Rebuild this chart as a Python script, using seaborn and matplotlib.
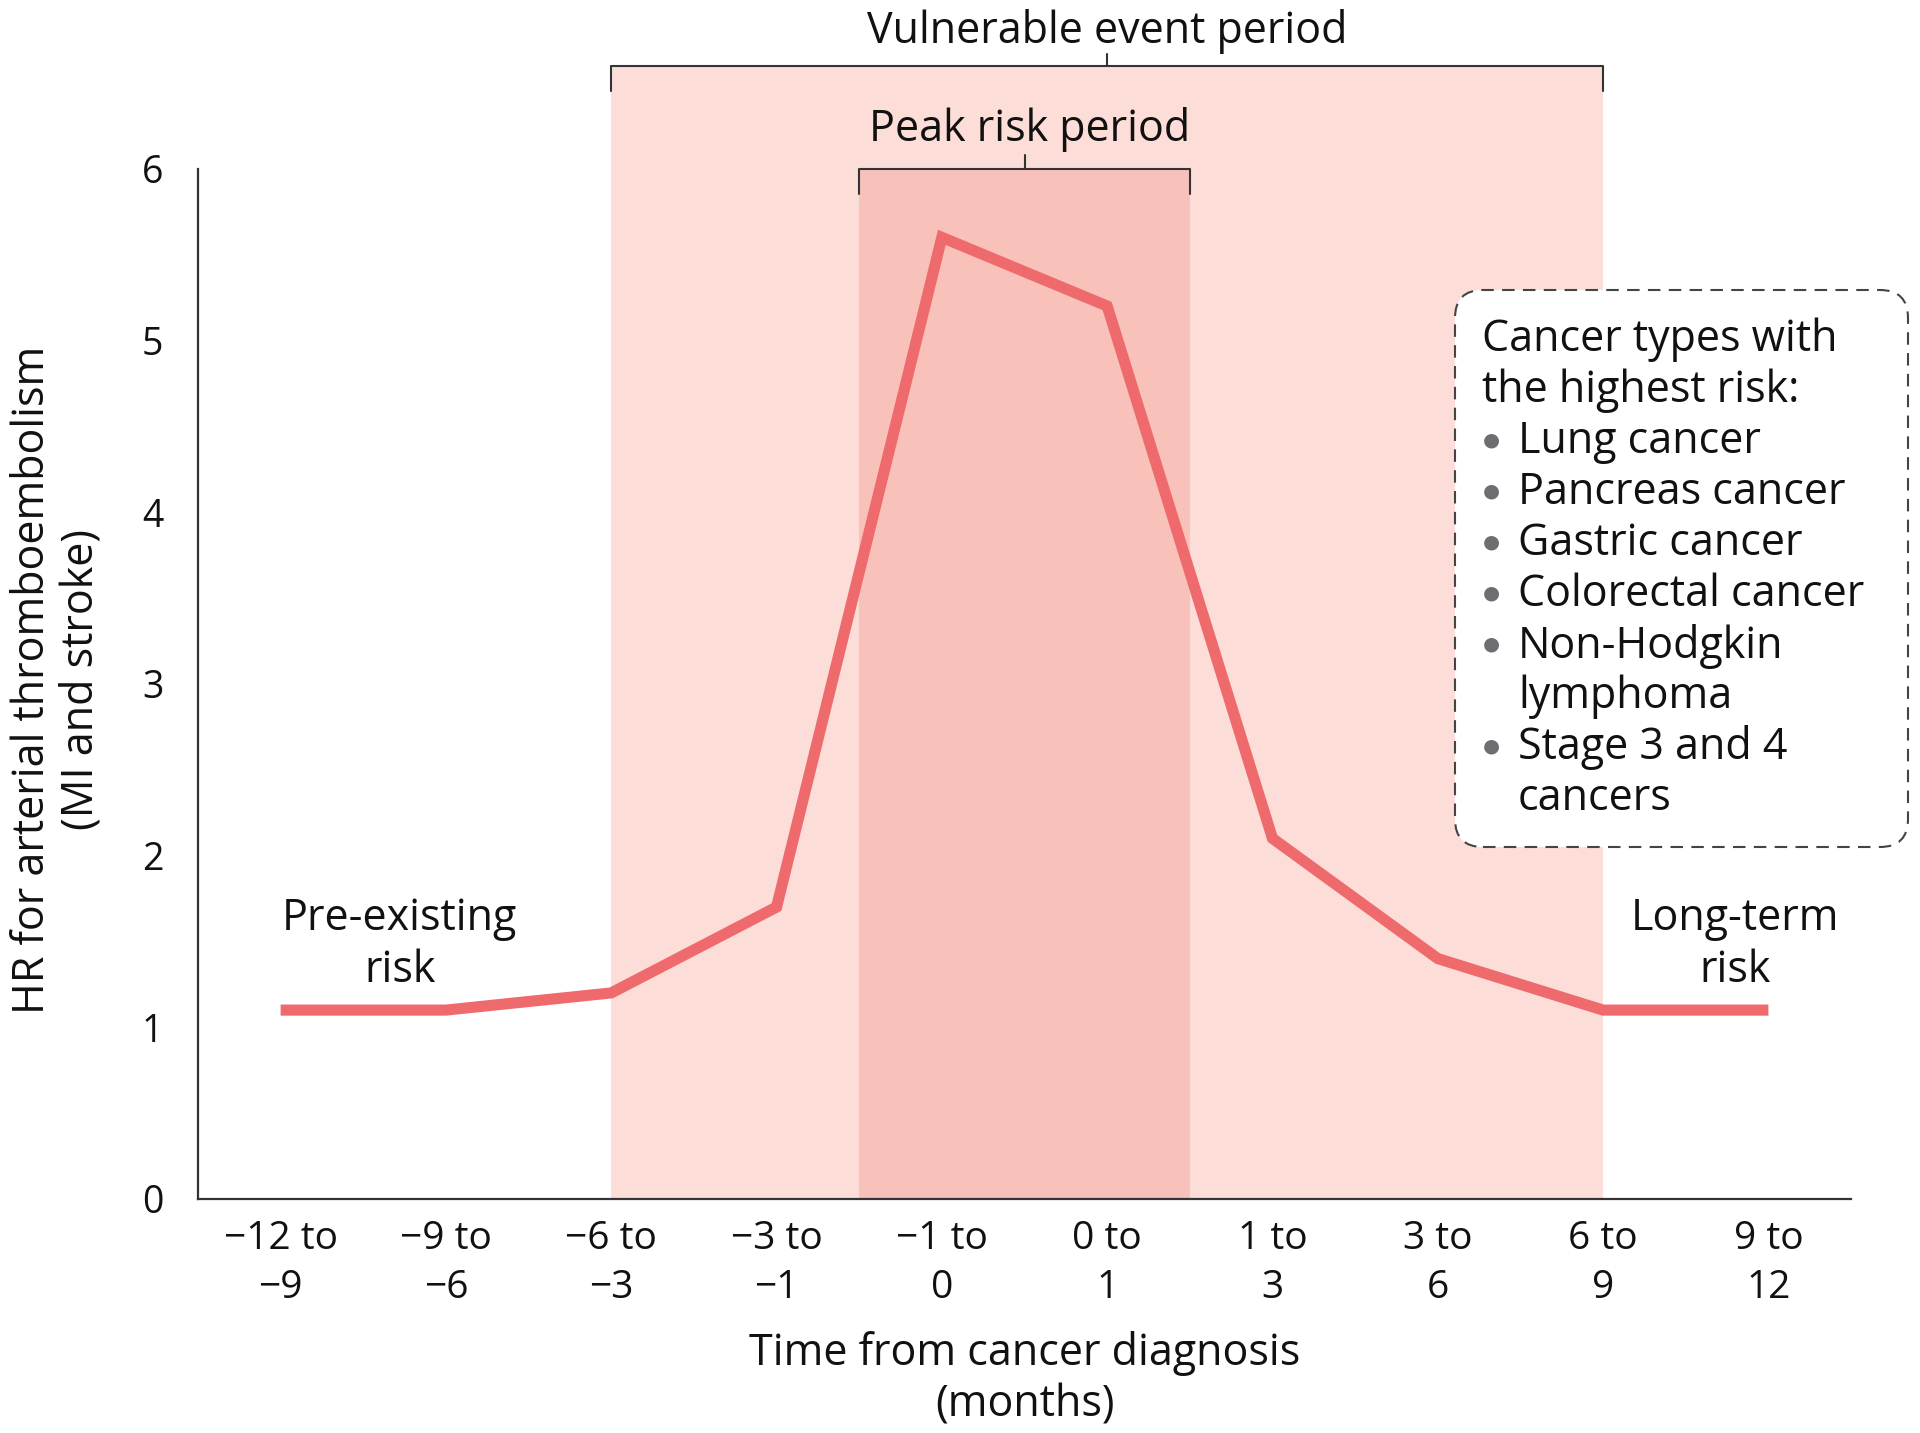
import numpy as np
import pandas as pd
import matplotlib
matplotlib.use("Agg")
import matplotlib.pyplot as plt
import seaborn as sns
from matplotlib.patches import FancyBboxPatch, Rectangle
from matplotlib.transforms import IdentityTransform

# === Data ===
periods = ["\u221212 to\n\u22129", "\u22129 to\n\u22126", "\u22126 to\n\u22123", "\u22123 to\n\u22121",
           "\u22121 to\n0", "0 to\n1", "1 to\n3", "3 to\n6", "6 to\n9", "9 to\n12"]
hazard_ratio = [1.1, 1.1, 1.2, 1.7, 5.6, 5.2, 2.1, 1.4, 1.1, 1.1]
y_ticks = [0, 1, 2, 3, 4, 5, 6]
vulnerable_span = (2, 8)      # category positions
vulnerable_top = 6.6
peak_span = (3.5, 5.5)
peak_top = 6.0
legend_title = ["Cancer types with", "the highest risk:"]
cancer_types = ["Lung cancer", "Pancreas cancer", "Gastric cancer", "Colorectal cancer",
                "Non-Hodgkin\nlymphoma", "Stage 3 and 4\ncancers"]

df = pd.DataFrame({"pos": np.arange(len(periods)), "hr": hazard_ratio})

# === Style ===
sns.set_style("white")
FONT = ["Open Sans", "DejaVu Sans"]
plt.rcParams["font.family"] = FONT
LINE_C = "#ee6a6d"
VULN_C = "#fcddd7"
PEAK_C = "#f8c1b9"
DARK = "#333333"
TXT = "#111111"

fig = plt.figure(figsize=(19.2, 14.33), dpi=100)
ax = fig.add_axes([0.1031, 0.1633, 0.861, 0.719])

# shaded periods (extend above the axes)
ax.add_patch(Rectangle((vulnerable_span[0], 0), vulnerable_span[1] - vulnerable_span[0], vulnerable_top,
                       facecolor=VULN_C, edgecolor="none", clip_on=False, zorder=0))
ax.add_patch(Rectangle((peak_span[0], 0), peak_span[1] - peak_span[0], peak_top,
                       facecolor=PEAK_C, edgecolor="none", clip_on=False, zorder=0.5))

sns.lineplot(data=df, x="pos", y="hr", color=LINE_C, linewidth=8, ax=ax, zorder=3,
             solid_joinstyle="miter", solid_capstyle="butt")

ax.set_xlim(-0.5, len(periods) - 0.5)
ax.set_ylim(0, 6)
for s in ["top", "right"]:
    ax.spines[s].set_visible(False)
for s in ["left", "bottom"]:
    ax.spines[s].set_color(DARK)
    ax.spines[s].set_linewidth(1.6)

# x ticks: boundaries as major ticks, labels on minor ticks at the centres
ax.set_xticks(np.arange(-0.5, len(periods), 1.0))
ax.set_xticklabels([])
ax.set_xticks(np.arange(len(periods)), minor=True)
ax.set_xticklabels(periods, minor=True, fontsize=28, linespacing=1.4, color=TXT)
ax.tick_params(axis="x", which="major", length=17, width=1.4, color=DARK, direction="out")
ax.tick_params(axis="x", which="minor", length=0, pad=15)

ax.set_yticks(y_ticks)
ax.set_yticklabels([str(t) for t in y_ticks], fontsize=27, color=TXT)
ax.tick_params(axis="y", length=19, width=1.4, color=DARK, direction="out", pad=6)

ax.set_xlabel("Time from cancer diagnosis\n(months)", fontsize=31, linespacing=1.2, color=TXT)
ax.xaxis.set_label_coords(0.5, -0.128)
ax.set_ylabel("HR for arterial thromboembolism\n(MI and stroke)", fontsize=31, linespacing=1.12, color=TXT)
ax.yaxis.set_label_coords(-0.057, 0.504)

# brackets
def bracket(x0, x1, y, drop, rise):
    ax.plot([x0, x0, x1, x1], [y - drop, y, y, y - drop], color=DARK, lw=1.5, clip_on=False, zorder=4)
    xm = (x0 + x1) / 2
    ax.plot([xm, xm], [y, y + rise], color=DARK, lw=1.5, clip_on=False, zorder=4)

bracket(vulnerable_span[0], vulnerable_span[1], vulnerable_top, 0.15, 0.07)
ax.text(sum(vulnerable_span) / 2, 6.80, "Vulnerable event period", ha="center", va="center",
        fontsize=31, color=TXT)
bracket(peak_span[0], peak_span[1], peak_top, 0.15, 0.08)
ax.text(sum(peak_span) / 2 + 0.03, 6.23, "Peak risk period", ha="center", va="center", fontsize=31, color=TXT)

ax.text(0.72, 1.48, "Pre-existing\nrisk", ha="center", va="center", fontsize=31, linespacing=1.2, color=TXT)
ax.text(8.8, 1.48, "Long-term\nrisk", ha="center", va="center", fontsize=31, linespacing=1.2, color=TXT)

# legend box (pixel coordinates)
W, H = 1920, 1433
box = FancyBboxPatch((1455, 586), 453, 557, boxstyle="round,pad=0,rounding_size=28",
                     transform=IdentityTransform(), facecolor="white", edgecolor="#444444",
                     linewidth=1.5, linestyle=(0, (6, 4)), zorder=5)
fig.patches.append(box)
box.set_figure(fig)

step = 51
y = 340
for line in legend_title:
    fig.text(1482 / W, 1 - y / H, line, ha="left", va="center", fontsize=31, color=TXT, zorder=6)
    y += step
for item in cancer_types:
    fig.text(1491 / W, 1 - (y - 2) / H, "\u25cf", ha="center", va="center", fontsize=14,
             color="#6d6e71", family=["DejaVu Sans"], zorder=6)
    for part in item.split("\n"):
        fig.text(1518 / W, 1 - y / H, part, ha="left", va="center", fontsize=31, color=TXT, zorder=6)
        y += step

fig.savefig("out.png", dpi=100)
